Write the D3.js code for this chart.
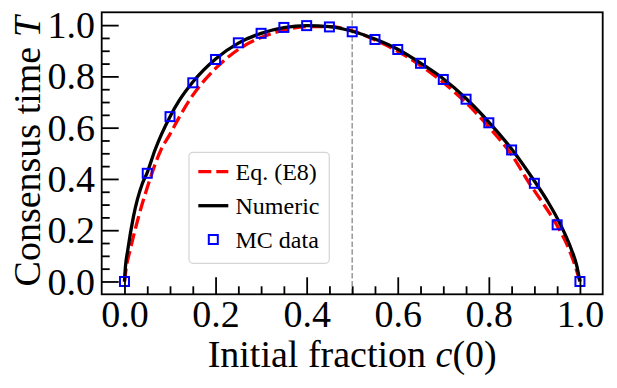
<!DOCTYPE html>
<html>
<head>
<meta charset="utf-8">
<script src="https://cdn.jsdelivr.net/npm/d3@7"></script>
<style>
  body { margin: 0; background: #fff; }
  svg { display: block; }
  text { font-family: "Liberation Serif", "Times New Roman", serif; fill: #000; }
</style>
</head>
<body>
<svg id="chart" width="617" height="388"></svg>
<script>
// MC data (squares)
var mcC = [0, 0.05, 0.1, 0.15, 0.2, 0.25, 0.3, 0.35, 0.4, 0.45, 0.5,
           0.55, 0.6, 0.65, 0.7, 0.75, 0.8, 0.85, 0.9, 0.95, 1.0];
var mcT = [0, 0.422, 0.643, 0.775, 0.866, 0.931, 0.968, 0.991, 0.998, 0.993, 0.974,
           0.944, 0.905, 0.851, 0.788, 0.711, 0.619, 0.513, 0.383, 0.221, 0];

// Numeric solution (black line)
var numC = [0, 0.002, 0.0073, 0.0197, 0.0395, 0.05, 0.067, 0.1, 0.12, 0.15, 0.2, 0.25,
            0.3, 0.35, 0.4, 0.45, 0.5, 0.55, 0.6, 0.65, 0.7, 0.75, 0.8, 0.85, 0.9,
            0.93, 0.9576, 0.9817, 0.993, 1.0];
var numT = [0, 0.055, 0.123, 0.253, 0.383, 0.425, 0.513, 0.643, 0.705, 0.778, 0.868, 0.93,
            0.968, 0.99, 0.998, 0.994, 0.976, 0.946, 0.906, 0.852, 0.791, 0.714, 0.622, 0.517, 0.392,
            0.31, 0.221, 0.123, 0.062, 0];

// Eq. (E8) (red dashed line)
var e8C = [0, 0.004, 0.0125, 0.031, 0.053, 0.08, 0.1, 0.12, 0.143, 0.2, 0.25, 0.3,
           0.35, 0.4, 0.45, 0.5, 0.55, 0.6, 0.65, 0.7, 0.75, 0.8, 0.85, 0.889,
           0.92, 0.949, 0.9766, 0.99, 1.0];
var e8T = [0, 0.055, 0.123, 0.253, 0.383, 0.513, 0.575, 0.64, 0.708, 0.831, 0.905, 0.952,
           0.98, 0.994, 0.994, 0.978, 0.942, 0.898, 0.842, 0.776, 0.697, 0.603, 0.494, 0.383,
           0.302, 0.221, 0.123, 0.058, 0];

var majorTicks = [0, 0.2, 0.4, 0.6, 0.8, 1.0];
var tickLabels = ["0.0", "0.2", "0.4", "0.6", "0.8", "1.0"];
var minorTicks = [0.05, 0.1, 0.15, 0.25, 0.3, 0.35, 0.45, 0.5, 0.55, 0.65, 0.7, 0.75, 0.85, 0.9, 0.95];

var legendNames = ["Eq. (E8)", "Numeric", "MC data"];

var plotL = 101.7, plotR = 602.7, plotT = 12.3, plotB = 294.3;

var svg = d3.select("#chart");

var x = d3.scaleLinear().domain([-0.05, 1.05]).range([plotL, plotR]);
var y = d3.scaleLinear().domain([-0.05, 1.05]).range([plotB, plotT]);

function zip(a, b) {
  return a.map(function(v, i) { return [v, b[i]]; });
}

// vertical reference line at c = 0.5
svg.append("line")
    .attr("x1", x(0.5)).attr("x2", x(0.5))
    .attr("y1", plotT).attr("y2", plotB)
    .attr("stroke", "#999")
    .attr("stroke-width", 1.5)
    .attr("stroke-dasharray", "5.5,2.4");

var line = d3.line()
    .x(function(d) { return x(d[0]); })
    .y(function(d) { return y(d[1]); })
    .curve(d3.curveMonotoneX);

svg.append("path")
    .datum(zip(e8C, e8T))
    .attr("d", line)
    .attr("fill", "none")
    .attr("stroke", "#ff0000")
    .attr("stroke-width", 3.3)
    .attr("stroke-dasharray", "13,5");

svg.append("path")
    .datum(zip(numC, numT))
    .attr("d", line)
    .attr("fill", "none")
    .attr("stroke", "#000")
    .attr("stroke-width", 3.3);

var sq = 9;
svg.selectAll(".mc").data(zip(mcC, mcT)).enter().append("rect")
    .attr("class", "mc")
    .attr("x", function(d) { return x(d[0]) - sq / 2; })
    .attr("y", function(d) { return y(d[1]) - sq / 2; })
    .attr("width", sq).attr("height", sq)
    .attr("fill", "none")
    .attr("stroke", "#0000ff")
    .attr("stroke-width", 2);

// axes: inward ticks, major every 0.2, minor every 0.05
var gx = svg.append("g").attr("transform", "translate(0," + plotB + ")");
gx.call(d3.axisBottom(x).tickValues(majorTicks).tickSize(-17)
    .tickFormat(function(d, i) { return tickLabels[i]; }));
gx.append("g").call(d3.axisBottom(x).tickValues(minorTicks).tickSize(-8).tickFormat(""));

var gy = svg.append("g").attr("transform", "translate(" + plotL + ",0)");
gy.call(d3.axisLeft(y).tickValues(majorTicks).tickSize(-17)
    .tickFormat(function(d, i) { return tickLabels[i]; }));
gy.append("g").call(d3.axisLeft(y).tickValues(minorTicks).tickSize(-8).tickFormat(""));

svg.selectAll(".domain").remove();
svg.selectAll(".tick line").attr("stroke", "#000").attr("stroke-width", 1.8);
svg.selectAll(".tick text")
    .style("font-family", "'Liberation Serif', 'Times New Roman', serif")
    .style("font-size", "38px")
    .attr("fill", "#000");
gx.selectAll(".tick text").attr("y", 32.4).attr("dy", null);
gy.selectAll(".tick text").attr("x", -6.7).attr("dy", "0.33em");

// frame
svg.append("rect")
    .attr("x", plotL).attr("y", plotT)
    .attr("width", plotR - plotL).attr("height", plotB - plotT)
    .attr("fill", "none")
    .attr("stroke", "#000")
    .attr("stroke-width", 1.8);

// axis labels
var xl = svg.append("text")
    .attr("x", (plotL + plotR) / 2)
    .attr("y", 366.7)
    .attr("text-anchor", "middle")
    .style("font-size", "38px");
xl.append("tspan").text("Initial fraction ");
xl.append("tspan").style("font-style", "italic").text("c");
xl.append("tspan").text("(0)");

var yl = svg.append("text")
    .attr("transform", "translate(40," + ((plotT + plotB) / 2 - 2) + ") rotate(-90)")
    .attr("text-anchor", "middle")
    .style("font-size", "38px");
yl.append("tspan").text("Consensus time ");
yl.append("tspan").style("font-style", "italic").text("T");

// legend
var lg = svg.append("g");
lg.append("rect")
    .attr("x", 189).attr("y", 152.3)
    .attr("width", 140.3).attr("height", 111)
    .attr("rx", 4)
    .attr("fill", "#fff").attr("fill-opacity", 0.8)
    .attr("stroke", "#d5d5d5").attr("stroke-width", 1.2);

var rowY = [171.7, 205.7, 239.5];
lg.append("line")
    .attr("x1", 198.3).attr("x2", 228.3)
    .attr("y1", rowY[0]).attr("y2", rowY[0])
    .attr("stroke", "#ff0000").attr("stroke-width", 3.3)
    .attr("stroke-dasharray", "13,5");
lg.append("line")
    .attr("x1", 198.3).attr("x2", 228.3)
    .attr("y1", rowY[1]).attr("y2", rowY[1])
    .attr("stroke", "#000").attr("stroke-width", 3.3);
lg.append("rect")
    .attr("x", 213.3 - sq / 2).attr("y", rowY[2] - sq / 2)
    .attr("width", sq).attr("height", sq)
    .attr("fill", "none").attr("stroke", "#0000ff").attr("stroke-width", 2);

lg.selectAll(".lt").data(legendNames).enter().append("text")
    .attr("class", "lt")
    .attr("x", 235.5)
    .attr("y", function(d, i) { return rowY[i] + 8.2; })
    .style("font-size", "24px")
    .text(function(d) { return d; });
</script>
</body>
</html>
